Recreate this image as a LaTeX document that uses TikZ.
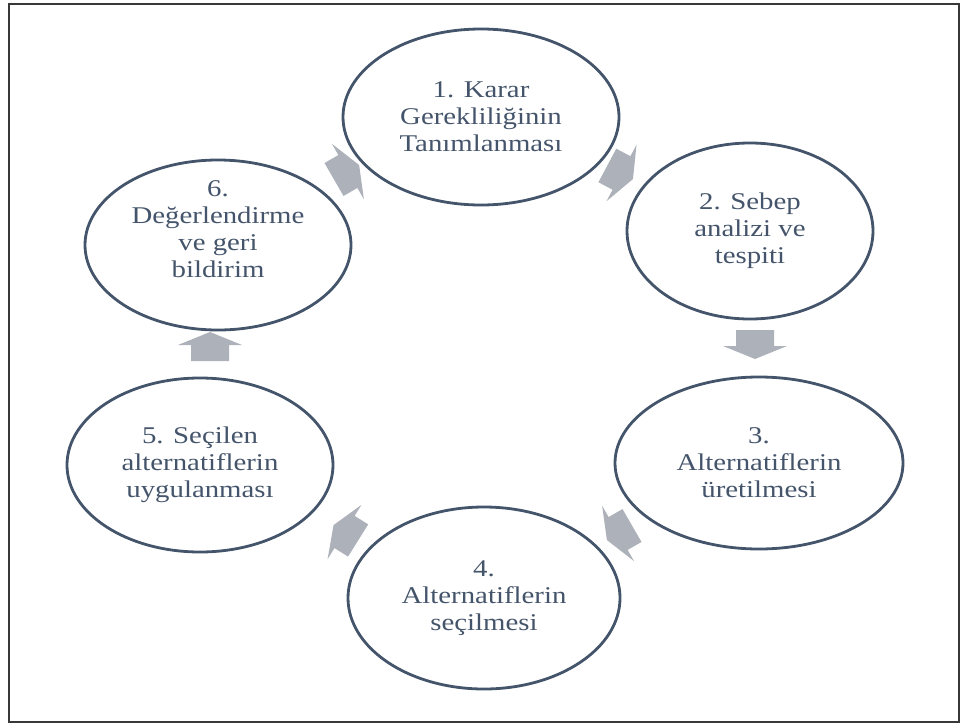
\documentclass[tikz,border=0pt]{standalone}
\usepackage{fontspec}
\setmainfont{Liberation Serif}[FakeStretch=1.2]
\usetikzlibrary{shapes.geometric}
\definecolor{ringblue}{HTML}{44546A}
\definecolor{arrowgray}{HTML}{ADB1BA}
\definecolor{framegray}{HTML}{383838}
\tikzset{
  stage/.style={ellipse, draw=ringblue, line width=2.8pt, inner sep=0pt,
    align=center, text=ringblue, font=\fontsize{24}{27}\selectfont},
  stagetext/.style={inner sep=0pt, align=center, text=ringblue, font=\fontsize{24}{27}\selectfont},
  pics/barrow/.style={code={
    \fill[arrowgray] (-15,-19) -- (1,-19) -- (1,-32) -- (14,0) -- (1,32) -- (1,19) -- (-15,19) -- cycle;}}
}
\begin{document}
\begin{tikzpicture}[x=1pt,y=-1pt]
\useasboundingbox (0,0) rectangle (965,725);
\draw[framegray, line width=2pt] (9,4) rectangle (959,722);

\node[stage, minimum width=276pt, minimum height=176pt] (s1) at (481,117) {1. Karar\\Gerekliliğinin\\Tanımlanması};
\node[stage, minimum width=246pt, minimum height=176pt] (s2) at (750,231) {2. Sebep\\analizi ve\\tespiti};
\node[stage, minimum width=288pt, minimum height=172pt] (s3) at (759,463) {3.\\Alternatiflerin\\üretilmesi};
\node[stage, minimum width=272pt, minimum height=182pt] (s4) at (484,598) {4.\\Alternatiflerin\\seçilmesi};
\node[stage, minimum width=266pt, minimum height=174pt] (s5) at (200,465) {5. Seçilen\\alternatiflerin\\uygulanması};
\node[stage, minimum width=266pt, minimum height=170pt] (s6) at (218,245) {};
\node[stagetext] (s6t) at (218,229) {6.\\Değerlendirme\\ve geri\\bildirim};

\pic[rotate=-28] at (620.6,172.5) {barrow};
\pic[rotate=-90] at (755,345) {barrow};
\pic[rotate=-150] at (619,533) {barrow};
\pic[rotate=148] at (345.4,532.5) {barrow};
\pic[rotate=90] at (210,346) {barrow};
\pic[rotate=30] at (347,172) {barrow};
\end{tikzpicture}
\end{document}
